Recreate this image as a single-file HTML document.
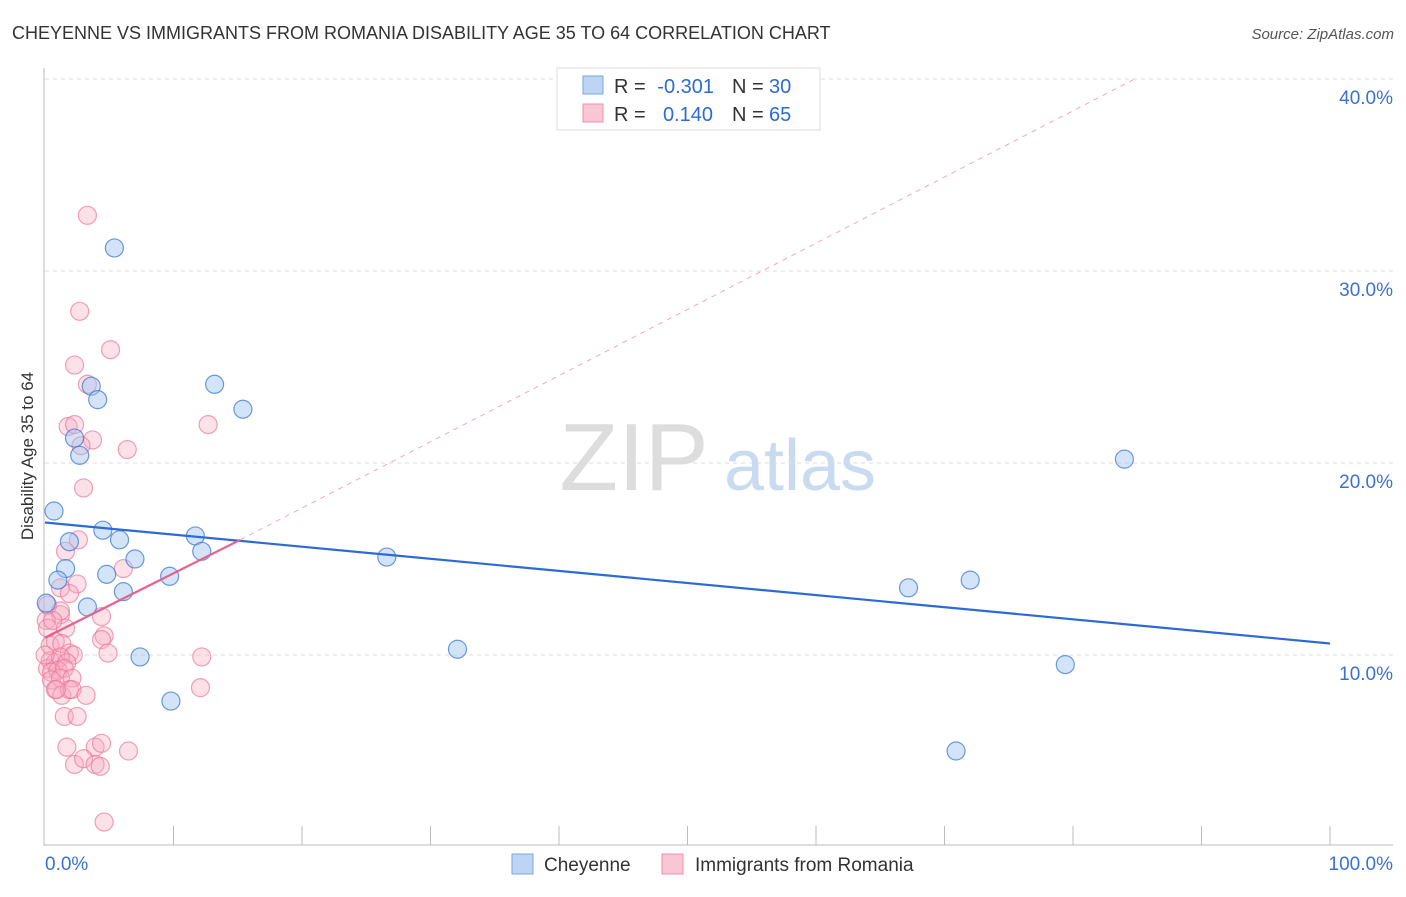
<!DOCTYPE html>
<html><head><meta charset="utf-8"><style>
body{margin:0;background:#fff;font-family:"Liberation Sans",sans-serif;}
svg text{font-family:"Liberation Sans",sans-serif;}
</style></head><body>
<svg id="c" width="1406" height="892">
<text x="12" y="39" font-size="18" fill="#333">CHEYENNE VS IMMIGRANTS FROM ROMANIA DISABILITY AGE 35 TO 64 CORRELATION CHART</text>
<text x="1394" y="39" font-size="15" fill="#555" text-anchor="end" font-style="italic">Source: ZipAtlas.com</text>
<text x="33" y="456" font-size="17" fill="#333" text-anchor="middle" transform="rotate(-90 33 456)">Disability Age 35 to 64</text>
<g><text x="634" y="490" font-size="96" fill="#ddd" text-anchor="middle" font-family="Liberation Serif">ZIP</text><text x="800" y="490" font-size="72" fill="#c9dbf0" text-anchor="middle">atlas</text></g>
<g id="grid"></g><g id="axes"></g><g id="pts"></g><g id="lines"></g>
<g>
<rect x="557" y="68" width="263" height="62" fill="#fff" stroke="#ddd"/>
<rect x="583" y="76" width="20" height="18" fill="#bcd5f5" stroke="#7aa6e0"/>
<rect x="583" y="104" width="20" height="18" fill="#f9c6d5" stroke="#ee8fac"/>
<text x="614" y="93" font-size="20" fill="#333">R =</text>
<text x="714" y="93" font-size="20" fill="#2b6bd6" text-anchor="end">-0.301</text>
<text x="732" y="93" font-size="20" fill="#333">N =</text>
<text x="769" y="93" font-size="20" fill="#2b6bd6">30</text>
<text x="614" y="121" font-size="20" fill="#333">R =</text>
<text x="713" y="121" font-size="20" fill="#2b6bd6" text-anchor="end">0.140</text>
<text x="732" y="121" font-size="20" fill="#333">N =</text>
<text x="769" y="121" font-size="20" fill="#2b6bd6">65</text>
</g>
<g>
<rect x="512" y="854" width="21" height="20" fill="#bcd5f5" stroke="#7aa6e0"/>
<text x="544" y="871" font-size="19" fill="#333">Cheyenne</text>
<rect x="662" y="854" width="21" height="20" fill="#f9c6d5" stroke="#ee8fac"/>
<text x="695" y="871" font-size="19" fill="#333">Immigrants from Romania</text>
</g>
</svg>
<script>
const yTicks=[10,20,30,40];
const yTickLabels=["10.0%","20.0%","30.0%","40.0%"];
const xLabels=["0.0%","100.0%"];
const cheyX=[5.4,3.6,4.1,2.3,2.7,13.2,15.4,84.0,0.7,4.5,5.8,1.9,11.7,7.0,12.2,1.6,1.0,4.8,9.7,6.1,3.3,0.1,26.6,32.1,7.4,67.2,72.0,79.4,9.8,70.9];
const cheyY=[31.2,24.0,23.3,21.3,20.4,24.1,22.8,20.2,17.5,16.5,16.0,15.9,16.2,15.0,15.4,14.5,13.9,14.2,14.1,13.3,12.5,12.7,15.1,10.3,9.9,13.5,13.9,9.5,7.6,5.0];
const romX=[3.3,2.7,5.1,2.3,3.3,12.7,1.8,2.3,3.7,2.8,6.4,3.0,1.6,2.6,6.1,2.5,1.2,1.9,4.4,1.2,1.6,4.6,4.4,4.9,12.2,12.1,0.1,0.4,0.8,1.3,1.9,2.2,0.4,0.8,1.2,1.7,0.2,0.5,1.0,1.5,0.0,0.5,1.2,2.1,0.8,1.3,1.9,2.1,3.2,1.5,2.5,1.7,3.9,4.4,6.5,2.3,3.0,3.9,4.3,4.6,0.2,0.9,1.2,0.6,0.2];
const romY=[32.9,27.9,25.9,25.1,24.1,22.0,21.9,22.0,21.2,20.9,20.7,18.7,15.4,16.0,14.5,13.7,13.5,13.2,12.0,12.1,11.4,11.0,10.8,10.1,9.9,8.3,11.8,10.5,10.7,10.6,10.1,10.0,9.7,9.6,9.9,9.6,9.3,9.1,9.2,9.3,10.0,8.7,8.8,8.8,8.2,7.9,8.2,8.2,7.9,6.8,6.8,5.2,5.2,5.4,5.0,4.3,4.6,4.3,4.2,1.3,11.4,8.2,12.3,11.8,12.6];
const cheyTrend=[16.9,10.6];
const romTrend=[10.9,16.0,40.0];
const NS='http://www.w3.org/2000/svg';
const X=v=>45+v*12.85, Y=v=>847-v*19.2;
function mk(p,t,a){const e=document.createElementNS(NS,t);for(const k in a)e.setAttribute(k,a[k]);p.appendChild(e);return e;}
const grid=document.getElementById('grid'),axes=document.getElementById('axes'),pts=document.getElementById('pts'),lines=document.getElementById('lines');
yTicks.forEach((t,i)=>{
 const l=mk(grid,'line',{x1:45,x2:1393,y1:Y(t),y2:Y(t),stroke:'#ddd','stroke-dasharray':'4,4'});
 
 
 const tx=mk(grid,'text',{x:1393,y:Y(t)+25,'font-size':19,fill:'#3a72d0','text-anchor':'end'});tx.textContent=yTickLabels[i];
 
 
});
mk(axes,'line',{x1:44,x2:44,y1:68,y2:846,stroke:'#bbb'});
mk(axes,'line',{x1:44,x2:1393,y1:845,y2:845,stroke:'#bbb'});
for(let i=1;i<=10;i++){const t=mk(axes,'line',{x1:X(i*10),x2:X(i*10),y1:826,y2:845,stroke:'#bbb'});
 
 }
const xl0=mk(axes,'text',{x:45,y:870,'font-size':19,fill:'#3a72d0'});xl0.textContent=xLabels[0];


const xl1=mk(axes,'text',{x:1393,y:870,'font-size':19,fill:'#3a72d0','text-anchor':'end'});xl1.textContent=xLabels[1];


romX.forEach((x,i)=>{const c=mk(pts,'circle',{cx:X(x),cy:Y(romY[i]),r:9,fill:'rgba(246,168,192,0.35)',stroke:'rgba(236,120,155,0.7)','stroke-width':1.2});
 
 });
cheyX.forEach((x,i)=>{const c=mk(pts,'circle',{cx:X(x),cy:Y(cheyY[i]),r:9,fill:'rgba(160,195,240,0.45)',stroke:'rgba(60,120,210,0.75)','stroke-width':1.2});
 
 });
const bl=mk(lines,'line',{x1:X(0),y1:Y(cheyTrend[0]),x2:X(100),y2:Y(cheyTrend[1]),stroke:'#2b6bd6','stroke-width':2.2});


const pl=mk(lines,'line',{x1:X(0),y1:Y(romTrend[0]),x2:X(15.2),y2:Y(romTrend[1]),stroke:'#e8608c','stroke-width':2.2});


const pd=mk(lines,'line',{x1:X(15.2),y1:Y(romTrend[1]),x2:X(84.8),y2:Y(romTrend[2]),stroke:'#f0a8bf','stroke-width':1,'stroke-dasharray':'5,5'});


</script>
</body></html>
